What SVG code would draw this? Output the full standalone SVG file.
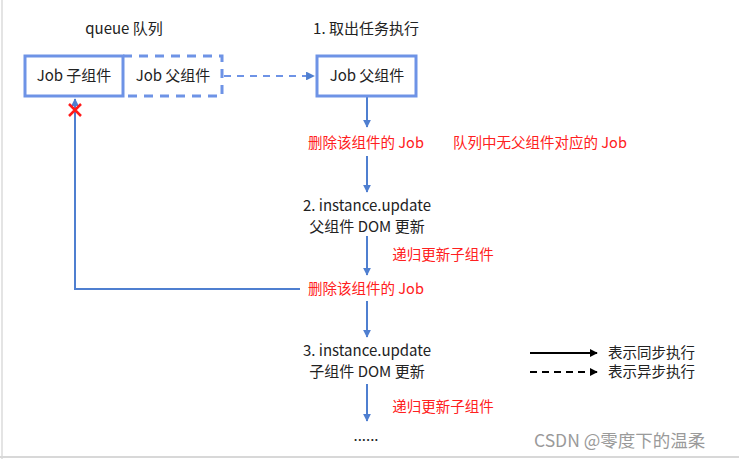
<svg xmlns="http://www.w3.org/2000/svg" width="739" height="459" viewBox="0 0 739 459">
<defs>
<style>
text{font-family:"Noto Sans CJK SC","Liberation Sans",sans-serif;font-size:15px;fill:#222}
.red{fill:#ff2020;font-size:14.5px}
.mid{text-anchor:middle}
.box{fill:#fff;stroke:#6e93e6;stroke-width:3}
.dash{fill:none;stroke:#6e93e6;stroke-width:3;stroke-dasharray:9 7}
.conn{fill:none;stroke:#4f7fd0;stroke-width:2}
.leg{fill:none;stroke:#000;stroke-width:2}
</style>
<marker id="ab" viewBox="0 0 10 10" refX="9" refY="5" markerWidth="4" markerHeight="4" orient="auto"><path d="M0,0L10,5L0,10z" fill="#4f7fd0"/></marker>
<marker id="ak" viewBox="0 0 10 10" refX="9" refY="5" markerWidth="4" markerHeight="4" orient="auto"><path d="M0,0L10,5L0,10z" fill="#000"/></marker>
</defs>
<rect width="739" height="459" fill="#fff"/>
<line x1="2" y1="0" x2="2" y2="459" stroke="#e4e4e4" stroke-width="2"/>
<line x1="0" y1="457" x2="739" y2="457" stroke="#d8d8d8" stroke-width="2"/>
<text x="124" y="34" class="mid">queue 队列</text>
<text x="366" y="34" class="mid">1. 取出任务执行</text>
<g id="connectors">
<line x1="224" y1="76" x2="314" y2="76" class="dash" marker-end="url(#ab)" style="stroke-dasharray:7 6;stroke-width:2.2"/>
<line x1="367" y1="97" x2="367" y2="127" class="conn" marker-end="url(#ab)"/>
<line x1="367" y1="156" x2="367" y2="192" class="conn" marker-end="url(#ab)"/>
<line x1="367" y1="236" x2="367" y2="275" class="conn" marker-end="url(#ab)"/>
<polyline points="300,289 75,289 75,99" class="conn" marker-end="url(#ab)"/>
<line x1="367" y1="301" x2="367" y2="337" class="conn" marker-end="url(#ab)"/>
<line x1="367" y1="384" x2="367" y2="421" class="conn" marker-end="url(#ab)"/>
<path d="M69,104L81,116M81,104L69,116" stroke="#ff1a1a" stroke-width="2.5" fill="none"/>
</g>
<g id="node-child-job">
<rect x="25" y="56" width="98" height="40" class="box"/>
<text x="74" y="81" class="mid">Job 子组件</text>
</g>
<g id="node-parent-job-queue">
<path d="M123,56H222V96H123" class="dash"/>
<text x="173" y="81" class="mid">Job 父组件</text>
</g>
<g id="node-parent-job">
<rect x="317" y="56" width="99" height="40" class="box"/>
<text x="367" y="81" class="mid">Job 父组件</text>
</g>
<g id="label-delete1">
<text x="366" y="148" class="red mid">删除该组件的 Job</text>
<text x="540" y="148" class="red mid">队列中无父组件对应的 Job</text>
</g>
<g id="node-update-parent">
<text x="367" y="211" class="mid">2. instance.update</text>
<text x="367" y="231.5" class="mid">父组件 DOM 更新</text>
</g>
<text x="443" y="260" class="red mid">递归更新子组件</text>
<g id="label-delete2">
<text x="366" y="294" class="red mid">删除该组件的 Job</text>
</g>
<g id="node-update-child">
<text x="367" y="356" class="mid">3. instance.update</text>
<text x="367" y="376.5" class="mid">子组件 DOM 更新</text>
</g>
<text x="443" y="412" class="red mid">递归更新子组件</text>
<text x="366" y="441" class="mid">......</text>
<g id="legend">
<line x1="530" y1="353" x2="597" y2="353" class="leg" marker-end="url(#ak)"/>
<line x1="530" y1="372" x2="597" y2="372" class="leg" marker-end="url(#ak)" style="stroke-dasharray:7 5"/>
<text x="608" y="358" style="font-size:14.5px">表示同步执行</text>
<text x="608" y="377" style="font-size:14.5px">表示异步执行</text>
</g>
<text x="534" y="447" style="fill:#9a9a9a;font-size:17.5px">CSDN @零度下的温柔</text>
</svg>
